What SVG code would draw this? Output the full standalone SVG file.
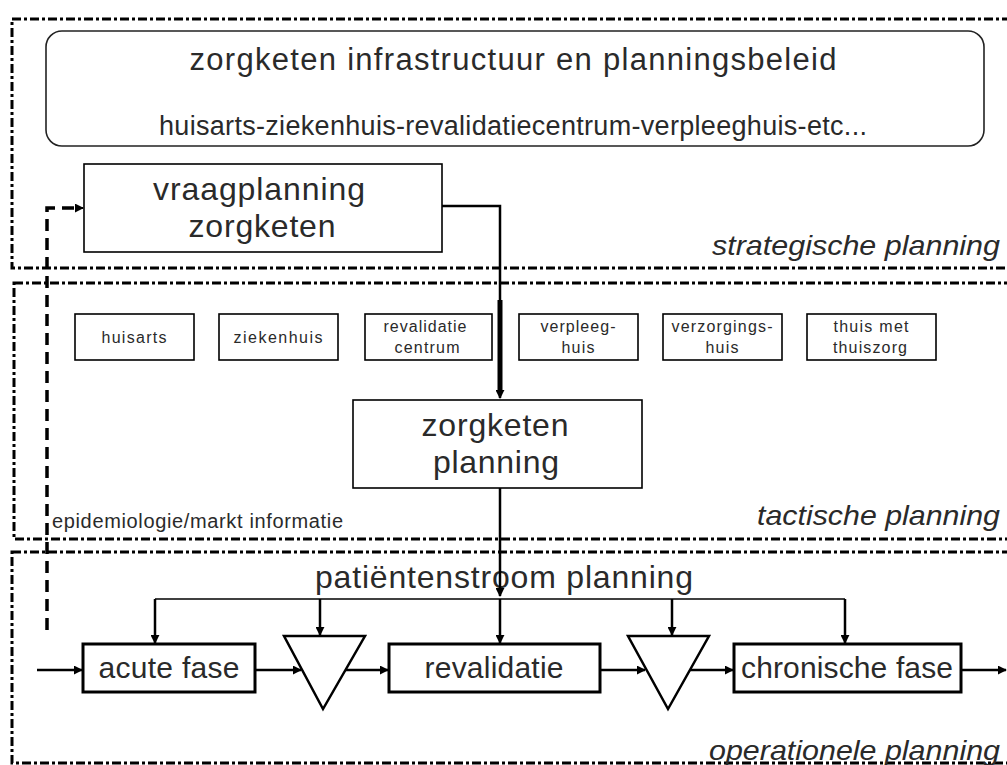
<svg xmlns="http://www.w3.org/2000/svg" width="1007" height="765" viewBox="0 0 1007 765">
  <style>
    text { font-family: "Liberation Sans", Arial, sans-serif; fill: #2a2a2a; }
    .frame { fill: none; stroke: #000; stroke-width: 3; stroke-dasharray: 9 3 3 3; }
    .box { fill: #fff; stroke: #000; stroke-width: 1.6; }
    .opbox { fill: #fff; stroke: #000; stroke-width: 3; }
    .small { font-size: 16px; text-anchor: middle; }
    .big { font-size: 32px; text-anchor: middle; }
    .op { font-size: 30px; text-anchor: middle; }
    .lvl { font-size: 28px; font-style: italic; text-anchor: end; }
    .conn { fill: none; stroke: #000; stroke-width: 2.5; }
  </style>
  <defs>
    <marker id="arrow" viewBox="0 0 10 10" refX="9" refY="5" markerWidth="9" markerHeight="9" markerUnits="userSpaceOnUse" orient="auto">
      <path d="M0,0 L10,5 L0,10 z" fill="#000"/>
    </marker>
  </defs>

  <rect width="1007" height="765" fill="#fff"/>

  <!-- planning levels -->
  <g id="levels">
    <rect class="frame" x="12" y="19" width="1020" height="249"/>
    <rect class="frame" x="14" y="283" width="1020" height="256"/>
    <rect class="frame" x="12" y="552" width="1020" height="211"/>
    <text class="lvl" x="1000" y="255" textLength="288" lengthAdjust="spacingAndGlyphs">strategische planning</text>
    <text class="lvl" x="1000" y="525" textLength="243" lengthAdjust="spacingAndGlyphs">tactische planning</text>
    <text class="lvl" x="1000" y="760" textLength="291" lengthAdjust="spacingAndGlyphs">operationele planning</text>
  </g>

  <g id="infrastructuur">
    <rect x="46" y="31" width="938" height="115" rx="16" fill="#fff" stroke="#222" stroke-width="1.6"/>
    <text x="513" y="70" font-size="31" text-anchor="middle" textLength="647" lengthAdjust="spacing">zorgketen infrastructuur en planningsbeleid</text>
    <text x="513" y="135" font-size="27" text-anchor="middle" textLength="708" lengthAdjust="spacing">huisarts-ziekenhuis-revalidatiecentrum-verpleeghuis-etc...</text>
  </g>

  <g id="vraagplanning">
    <rect class="box" x="84" y="164" width="358" height="88"/>
    <text class="big" x="259" y="200" textLength="212" lengthAdjust="spacing">vraagplanning</text>
    <text class="big" x="262" y="237" textLength="147" lengthAdjust="spacing">zorgketen</text>
  </g>

  <!-- care providers -->
  <g id="huisarts">
    <rect class="box" x="75" y="314" width="119" height="46"/>
    <text class="small" x="134" y="343" textLength="65" lengthAdjust="spacing">huisarts</text>
  </g>
  <g id="ziekenhuis">
    <rect class="box" x="219" y="314" width="119" height="46"/>
    <text class="small" x="278" y="343" textLength="89" lengthAdjust="spacing">ziekenhuis</text>
  </g>
  <g id="revalidatiecentrum">
    <rect class="box" x="365" y="314" width="127" height="46"/>
    <text class="small" x="425" y="332" textLength="83" lengthAdjust="spacing">revalidatie</text>
    <text class="small" x="427" y="353" textLength="65" lengthAdjust="spacing">centrum</text>
  </g>
  <g id="verpleeghuis">
    <rect class="box" x="519" y="314" width="119" height="46"/>
    <text class="small" x="578" y="332" textLength="75" lengthAdjust="spacing">verpleeg-</text>
    <text class="small" x="578" y="353" textLength="33" lengthAdjust="spacing">huis</text>
  </g>
  <g id="verzorgingshuis">
    <rect class="box" x="663" y="314" width="119" height="46"/>
    <text class="small" x="722" y="332" textLength="101" lengthAdjust="spacing">verzorgings-</text>
    <text class="small" x="722" y="353" textLength="33" lengthAdjust="spacing">huis</text>
  </g>
  <g id="thuiszorg">
    <rect class="box" x="807" y="314" width="129" height="46"/>
    <text class="small" x="871" y="332" textLength="75" lengthAdjust="spacing">thuis met</text>
    <text class="small" x="870" y="353" textLength="74" lengthAdjust="spacing">thuiszorg</text>
  </g>

  <g id="zorgketenplanning">
    <rect class="box" x="353" y="400" width="289" height="88"/>
    <text class="big" x="495" y="436" textLength="147" lengthAdjust="spacing">zorgketen</text>
    <text class="big" x="496" y="473" textLength="126" lengthAdjust="spacing">planning</text>
  </g>

  <g id="epidemiologie">
    <text x="52" y="528" font-size="20" textLength="291" lengthAdjust="spacing">epidemiologie/markt informatie</text>
  </g>

  <g id="patientenstroom">
    <text x="504" y="588" font-size="32" text-anchor="middle" textLength="378" lengthAdjust="spacing">patiëntenstroom planning</text>
  </g>

  <!-- patient flow -->
  <g id="acute">
    <rect class="opbox" x="83" y="644" width="172" height="48"/>
    <text class="op" x="169" y="678" textLength="141" lengthAdjust="spacing">acute fase</text>
  </g>
  <g id="buffer1">
    <polygon points="284,636 365,636 323,709" fill="#fff" stroke="#000" stroke-width="2.5" stroke-linejoin="miter"/>
  </g>
  <g id="revalidatie">
    <rect class="opbox" x="389" y="644" width="211" height="48"/>
    <text class="op" x="494" y="678" textLength="139" lengthAdjust="spacing">revalidatie</text>
  </g>
  <g id="buffer2">
    <polygon points="628,636 709,636 668,709" fill="#fff" stroke="#000" stroke-width="2.5" stroke-linejoin="miter"/>
  </g>
  <g id="chronisch">
    <rect class="opbox" x="734" y="644" width="227" height="48"/>
    <text class="op" x="847" y="678" textLength="212" lengthAdjust="spacing">chronische fase</text>
  </g>

  <g id="connectors">
    <!-- demand planning to care chain planning -->
    <path class="conn" d="M442,206 H500 V398" stroke-width="3" marker-end="url(#arrow)"/>
    <path d="M500,300 V390" stroke="#000" stroke-width="5"/>
    <!-- care chain planning to patient flow planning -->
    <path class="conn" d="M500,488 V596" marker-end="url(#arrow)"/>
    <!-- feedback from operations -->
    <path d="M47,630 V208 H76" fill="none" stroke="#000" stroke-width="3.5" stroke-dasharray="12 7"/>
    <path d="M76,208 H83" fill="none" stroke="#000" stroke-width="2" marker-end="url(#arrow)"/>
    <!-- distribution bus -->
    <path d="M155,599 H845" fill="none" stroke="#000" stroke-width="1.6"/>
    <path class="conn" d="M155,599 V643" marker-end="url(#arrow)"/>
    <path class="conn" d="M320,599 V635" marker-end="url(#arrow)"/>
    <path class="conn" d="M500,599 V643" marker-end="url(#arrow)"/>
    <path class="conn" d="M672,599 V635" marker-end="url(#arrow)"/>
    <path class="conn" d="M845,599 V643" marker-end="url(#arrow)"/>
    <!-- flow line -->
    <path class="conn" d="M37,670 H82" marker-end="url(#arrow)"/>
    <path class="conn" d="M255,670 H301" marker-end="url(#arrow)"/>
    <path class="conn" d="M345,670 H388" marker-end="url(#arrow)"/>
    <path class="conn" d="M600,670 H645" marker-end="url(#arrow)"/>
    <path class="conn" d="M690,670 H733" marker-end="url(#arrow)"/>
    <path class="conn" d="M961,670 H1006" stroke-width="4" marker-end="url(#arrow)"/>
  </g>
</svg>
